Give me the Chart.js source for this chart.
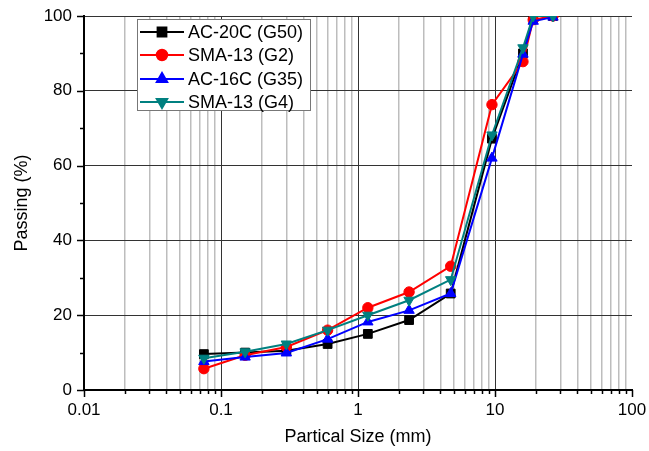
<!DOCTYPE html>
<html>
<head>
<meta charset="utf-8">
<script src="https://cdn.jsdelivr.net/npm/chart.js@4/dist/chart.umd.min.js"></script>
<style>
  html, body { margin: 0; padding: 0; background: #fff; }
  #wrap { width: 649px; height: 451px; position: relative; }
</style>
</head>
<body>
<div id="wrap"><canvas id="chart" width="649" height="451"></canvas></div>
<script>
// sieve sizes (mm) and percent passing
const sizes = [0.075, 0.15, 0.3, 0.6, 1.18, 2.36, 4.75, 9.5, 16, 19, 26.5];
const ac20cG50 = [9.6, 10.0, 10.5, 12.3, 15.0, 18.7, 25.8, 67.2, 90.0, 100, 100];
const sma13G2  = [5.7, 9.3, 11.5, 16.0, 22.0, 26.2, 33.1, 76.3, 87.8, 99.0, 100];
const ac16cG35 = [7.6, 8.8, 9.9, 13.6, 18.2, 21.3, 25.8, 62.0, 89.8, 98.6, 99.7];
const sma13G4  = [8.5, 10.2, 12.3, 16.0, 20.0, 24.0, 29.5, 68.2, 91.5, 100, 100];

const seriesNames = ['AC-20C (G50)', 'SMA-13 (G2)', 'AC-16C (G35)', 'SMA-13 (G4)'];
const decades = [0.01, 0.1, 1, 10, 100];
const yTicks = [0, 10, 20, 30, 40, 50, 60, 70, 80, 90, 100];

const FONT = "'Liberation Sans', Arial, sans-serif";

const pts = arr => arr.map((v, i) => ({ x: sizes[i], y: v }));
const isDecade = v => Math.abs(Math.log10(v) - Math.round(Math.log10(v))) < 1e-6;

// all log ticks: 1..9 per decade
const xTickValues = [];
decades.slice(0, -1).forEach(d => {
  for (let m = 1; m <= 9; m++) xTickValues.push(Number((m * d).toPrecision(3)));
});
xTickValues.push(100);

function mkSet(label, data, color, style, radius, rotation, order) {
  return {
    label, data: pts(data),
    borderColor: color, backgroundColor: color,
    borderWidth: 2,
    pointStyle: style, pointRadius: radius, pointRotation: rotation,
    pointBackgroundColor: color, pointBorderColor: color, pointBorderWidth: 1,
    tension: 0, order
  };
}

const datasets = [
  mkSet(seriesNames[0], ac20cG50, '#000000', 'rect', 6.2, 0, 4),
  mkSet(seriesNames[1], sma13G2, '#ff0000', 'circle', 5.2, 0, 3),
  mkSet(seriesNames[2], ac16cG35, '#0000ff', 'triangle', 6, 0, 2),
  mkSet(seriesNames[3], sma13G4, '#008080', 'triangle', 6, 180, 1)
];

// minor/major tick marks drawn outside the axes
const tickMarks = {
  id: 'tickMarks',
  afterDraw(chart) {
    const { ctx, chartArea: a } = chart;
    const xs = chart.scales.x, ys = chart.scales.y;
    ctx.save();
    ctx.strokeStyle = '#000';
    ctx.lineWidth = 1.5;
    xTickValues.forEach(v => {
      const px = Math.round(xs.getPixelForValue(v)) + 0.5;
      const len = isDecade(v) ? 7 : 4;
      ctx.beginPath();
      ctx.moveTo(px, a.bottom);
      ctx.lineTo(px, a.bottom + len);
      ctx.stroke();
    });
    yTicks.forEach(v => {
      const py = Math.round(ys.getPixelForValue(v)) + 0.5;
      const len = v % 20 === 0 ? 7 : 4;
      ctx.beginPath();
      ctx.moveTo(a.left, py);
      ctx.lineTo(a.left - len, py);
      ctx.stroke();
    });
    ctx.restore();
  }
};

// boxed legend with line + marker samples
const boxLegend = {
  id: 'boxLegend',
  afterDraw(chart) {
    const { ctx } = chart;
    const x0 = 137.5, y0 = 19.5, w = 173, h = 91;
    ctx.save();
    ctx.fillStyle = '#fff';
    ctx.fillRect(x0, y0, w, h);
    ctx.strokeStyle = '#777';
    ctx.lineWidth = 1;
    ctx.strokeRect(x0, y0, w, h);
    const rows = [32, 55, 79, 102];
    chart.data.datasets.forEach((ds, i) => {
      const y = rows[i];
      ctx.strokeStyle = ds.borderColor;
      ctx.lineWidth = 2;
      ctx.beginPath();
      ctx.moveTo(140, y);
      ctx.lineTo(184, y);
      ctx.stroke();
      ctx.fillStyle = ds.backgroundColor;
      Chart.helpers.drawPoint(ctx, {
        pointStyle: ds.pointStyle, radius: ds.pointRadius,
        rotation: ds.pointRotation, borderWidth: 1
      }, 162, y);
      ctx.fillStyle = '#000';
      ctx.font = '18px ' + FONT;
      ctx.textBaseline = 'middle';
      ctx.fillText(ds.label, 188, y + 1);
    });
    ctx.restore();
  }
};

new Chart(document.getElementById('chart'), {
  type: 'line',
  data: { datasets },
  plugins: [tickMarks, boxLegend],
  options: {
    responsive: false,
    animation: false,
    layout: { padding: { left: 0, right: 17, top: 16, bottom: 0 } },
    plugins: { legend: { display: false }, tooltip: { enabled: false } },
    scales: {
      x: {
        type: 'logarithmic',
        min: 0.01, max: 100,
        afterBuildTicks: s => { s.ticks = xTickValues.map(v => ({ value: v })); },
        afterFit: s => { s.height = 61; s.paddingLeft = 0; s.paddingRight = 0; },
        border: { color: '#000', width: 2 },
        grid: {
          drawTicks: false,
          color: c => {
            const v = c.tick && c.tick.value;
            if (v === 100 || v === 0.01) return 'rgba(0,0,0,0)';
            return isDecade(v) ? '#333' : '#bdbdbd';
          },
          lineWidth: c => (c.tick && isDecade(c.tick.value) ? 1 : 1.5)
        },
        ticks: {
          autoSkip: false, maxRotation: 0, padding: 10,
          color: '#000', font: { family: FONT, size: 17 },
          callback: v => isDecade(v) ? String(Number(v.toPrecision(3))) : ''
        },
        title: {
          display: true, text: 'Partical Size (mm)', color: '#000',
          font: { family: FONT, size: 18 }, padding: { top: 0, bottom: 3 }
        }
      },
      y: {
        min: 0, max: 100,
        afterBuildTicks: s => { s.ticks = yTicks.map(v => ({ value: v })); },
        afterFit: s => { s.width = 84; s.paddingTop = 0; s.paddingBottom = 0; },
        border: { color: '#000', width: 2 },
        grid: {
          drawTicks: false,
          color: c => (c.tick && c.tick.value % 20 === 0 && c.tick.value > 0 ? '#333' : 'rgba(0,0,0,0)'),
          lineWidth: 1
        },
        ticks: {
          padding: 12, color: '#000', font: { family: FONT, size: 17 },
          callback: v => (v % 20 === 0 ? String(v) : '')
        },
        title: {
          display: true, text: 'Passing (%)', color: '#000',
          font: { family: FONT, size: 18 }, padding: { top: 11, bottom: 0 }
        }
      }
    }
  }
});
</script>
</body>
</html>
